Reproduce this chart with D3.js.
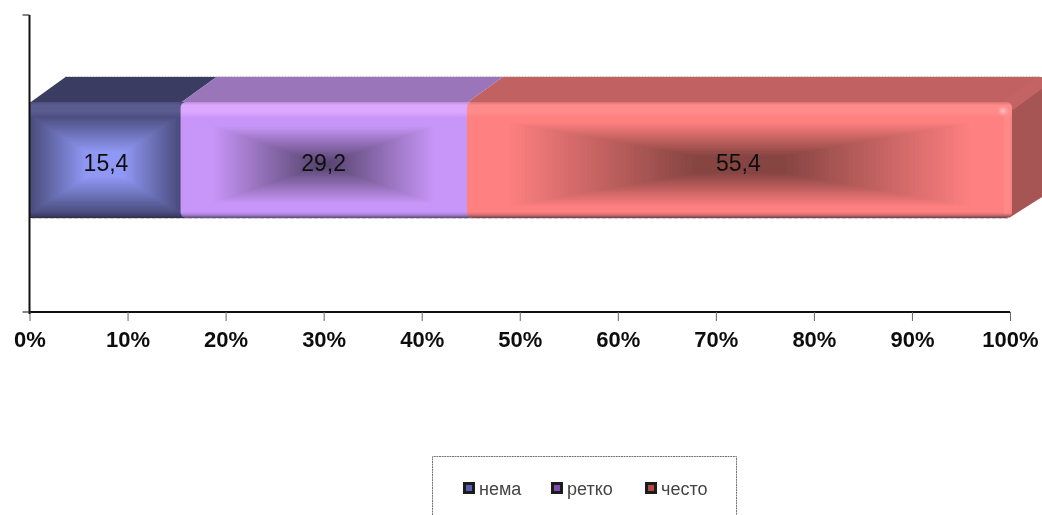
<!DOCTYPE html>
<html><head><meta charset="utf-8">
<script src="https://cdn.jsdelivr.net/npm/d3@7"></script>
<style>
html,body{margin:0;padding:0;background:#fff;overflow:hidden}
svg{display:block}
text{font-family:"Liberation Sans",Arial,sans-serif}
</style></head><body>
<svg id="c" width="1042" height="515"></svg>
<script>
// --- data ---
const categories = [""];
const seriesNames = ["нема", "ретко", "често"];
const seriesValues = [15.4, 29.2, 55.4];
const valueLabels = ["15,4", "29,2", "55,4"];
const tickValues = [0,10,20,30,40,50,60,70,80,90,100];

// --- styles ---
const edgeColor   = ["#4a4c7c", "#c896f8", "#ff8080"];
const centerColor = ["#9098f4", "#56446e", "#874543"];
const bandColor   = ["#5a5c90", "#dca8ff", "#ff8b8b"];
const topColor    = ["#3a3c62", "#9b75ba", "#c16161"];
const swatchColor = ["#5a5cb0", "#7a4fb0", "#b84444"];
const rampStart   = [0, 0.22, 0.14];
const rampSpan    = [0.75, 0.76, 0.7];
const sideColor = "#a65454", sideEdge = "#c46464";

const svg = d3.select("#c");
const defs = svg.append("defs");
const soft = defs.append("filter").attr("id","soft").attr("x","-5%").attr("y","-5%").attr("width","110%").attr("height","110%");
soft.append("feGaussianBlur").attr("stdDeviation",0.45);
const softer = defs.append("filter").attr("id","softer").attr("x","-30%").attr("y","-30%").attr("width","160%").attr("height","160%");
softer.append("feGaussianBlur").attr("stdDeviation",1.6);

const x = d3.scaleLinear().domain([0,100]).range([29.5,1010]);
const y = d3.scaleBand().domain(categories).range([15,312]).paddingInner(0.438).paddingOuter(0.438).align(0.4807);

let acc = 0;
const segs = seriesValues.map((v,i)=>{const s={i,v,x0:acc,x1:acc+v,label:valueLabels[i]};acc+=v;return s;});
const dx = 36, dy = 25;            // 3-D depth offset
const by = y(categories[0]), bh = y.bandwidth();
const bevelTop = 13, bevelBot = 4;

const ramp = (i,t)=>{
  const e = Math.max(0,Math.min((t-rampStart[i])/rampSpan[i],1));
  return d3.interpolateRgb(edgeColor[i],centerColor[i])(e);
};

// gradient overlays
segs.forEach(s=>{
  const g=defs.append("linearGradient").attr("id","bt"+s.i).attr("x1",0).attr("x2",0).attr("y1",0).attr("y2",1);
  const c=bandColor[s.i];
  [[0,d3.color(c).darker(.5).formatHex(),1],[.2,c,1],[.6,c,1],[1,c,0]].forEach(p=>
    g.append("stop").attr("offset",p[0]).attr("stop-color",p[1]).attr("stop-opacity",p[2]));
  const bb=defs.append("linearGradient").attr("id","bb"+s.i).attr("x1",0).attr("x2",0).attr("y1",0).attr("y2",1);
  [[0,0],[.5,.2],[1,.65]].forEach(p=>bb.append("stop").attr("offset",p[0]).attr("stop-color","#1a1a2a").attr("stop-opacity",p[1]));
});

// top faces
const xEnd = x(100)+2;
svg.selectAll("path.top").data(segs).join("path").attr("class","top")
  .attr("fill",d=>topColor[d.i])
  .attr("d",d=>{const a=x(d.x0),b=d.i===2?xEnd-9:x(d.x1);
    return `M${a},${by+1}L${a+dx},${by-dy}H${b+dx}L${b},${by+1}Z`;});

// right side face
svg.append("path").attr("fill",sideColor)
  .attr("d",`M${xEnd-2},${by+2}L${xEnd+dx-6},${by-dy}Q${xEnd+dx},${by-dy} ${xEnd+dx},${by-dy+8}V${by+bh-dy}L${xEnd-3},${by+bh}Z`);
svg.append("path").attr("fill",sideEdge).attr("filter","url(#soft)")
  .attr("d",`M${xEnd-10},${by}L${xEnd+dx-12},${by-dy}H${xEnd+dx-7}Q${xEnd+dx-1},${by-dy} ${xEnd+dx-1},${by-dy+8}L${xEnd+1},${by+8}Z`);

// front faces
const seg = svg.selectAll("g.seg").data(segs).join("g").attr("class","seg").attr("filter","url(#soft)");
seg.each(function(d){
  const g=d3.select(this);
  const a=x(d.x0), b=d.i===2?xEnd:x(d.x1), w=b-a;
  const ext=d.i===2?0:8;              // tucked beneath the next segment's rounded corners
  const clipId="cl"+d.i;
  defs.append("clipPath").attr("id",clipId).append("rect").attr("x",a).attr("y",by).attr("width",w+ext).attr("height",bh).attr("rx",d.i===0?1:6);
  const inner=g.append("g").attr("clip-path",`url(#${clipId})`);
  inner.append("rect").attr("x",a).attr("y",by).attr("width",w+ext).attr("height",bh).attr("fill",edgeColor[d.i]);
  const top=by+bevelTop, h=bh-bevelTop-bevelBot, steps=70;
  inner.selectAll("rect.r").data(d3.range(steps)).join("rect").attr("class","r")
    .attr("x",k=>a+(k/steps)*w/2).attr("width",k=>w*(1-k/steps))
    .attr("y",k=>top+(k/steps)*h/2).attr("height",k=>h*(1-k/steps))
    .attr("fill",k=>ramp(d.i,k/(steps-1)));
  inner.append("rect").attr("x",a).attr("y",by).attr("width",w+ext).attr("height",bevelTop+3).attr("fill",`url(#bt${d.i})`);
  inner.append("rect").attr("x",a).attr("y",by+bh-6).attr("width",w+ext).attr("height",6).attr("fill",`url(#bb${d.i})`);
  if(d.i===2){
    inner.append("rect").attr("x",b-8).attr("y",by+6).attr("width",6).attr("height",bh-10).attr("fill","#ff9090").attr("opacity",.6);
    inner.append("circle").attr("cx",b-9).attr("cy",by+9).attr("r",3).attr("fill","#ffc0c0").attr("filter","url(#softer)");
  }
});

// dotted fringes
svg.append("line").attr("x1",x(0)+36).attr("x2",xEnd+dx-8).attr("y1",by-dy-.5).attr("y2",by-dy-.5)
  .attr("stroke","#c8c8c8").attr("stroke-dasharray","2 1");
svg.append("line").attr("x1",x(0)+2).attr("x2",xEnd-4).attr("y1",by+bh+.5).attr("y2",by+bh+.5)
  .attr("stroke","#c8c8c8").attr("stroke-dasharray","5 1");

// value labels
svg.selectAll("text.v").data(segs).join("text").attr("class","v")
  .attr("x",d=>x((d.x0+d.x1)/2)+(d.i===0?1:0)).attr("y",by+bh/2+11)
  .attr("text-anchor","middle").attr("font-size",23).attr("fill","#111")
  .attr("filter","url(#soft)").text(d=>d.label);

// axes
const axisG = svg.append("g").attr("transform","translate(0,312)");
axisG.call(d3.axisBottom(x).tickValues(tickValues).tickFormat(d=>d+"%").tickSize(9).tickPadding(10));
axisG.select(".domain").attr("stroke","#111").attr("stroke-width",2).attr("d",`M${x(0)},0H${x(100)}`);
axisG.selectAll(".tick line").attr("stroke","#666").attr("stroke-width",1);
axisG.selectAll(".tick text").attr("font-family",'"Liberation Sans",Arial,sans-serif')
  .attr("font-size",22).attr("font-weight",700).attr("fill","#111")
  .attr("filter","url(#soft)").attr("y",19).attr("dy","0.71em").attr("text-anchor","middle");

const yLine = d3.scaleLinear().domain([0,1]).range([312,15]);
const yAxis = svg.append("g");
yAxis.append("line").attr("x1",x(0)).attr("x2",x(0)).attr("y1",yLine(1)).attr("y2",yLine(0)+2).attr("stroke","#111").attr("stroke-width",2);
yAxis.selectAll("line.t").data([0,1]).join("line").attr("class","t")
  .attr("x1",x(0)-7).attr("x2",x(0)).attr("y1",d=>yLine(d)).attr("y2",d=>yLine(d))
  .attr("stroke","#333").attr("stroke-width",1.2);

// legend
const legendX=[463,551,645];
svg.append("path").attr("d","M432.5,515V456.5H736.5V515").attr("fill","none").attr("stroke","#777").attr("stroke-dasharray","2 .6");
const lg=svg.selectAll("g.l").data(seriesNames).join("g").attr("class","l")
  .attr("transform",(d,i)=>`translate(${legendX[i]},482)`);
lg.append("rect").attr("width",12).attr("height",12).attr("fill","#1c1c1c").attr("filter","url(#soft)");
lg.append("rect").attr("x",3).attr("y",3).attr("width",6).attr("height",6).attr("fill",(d,i)=>swatchColor[i]).attr("filter","url(#soft)");
lg.append("text").attr("x",16).attr("y",12.5).attr("font-size",18).attr("fill","#444").attr("filter","url(#soft)").text(d=>d);
</script>
</body></html>
